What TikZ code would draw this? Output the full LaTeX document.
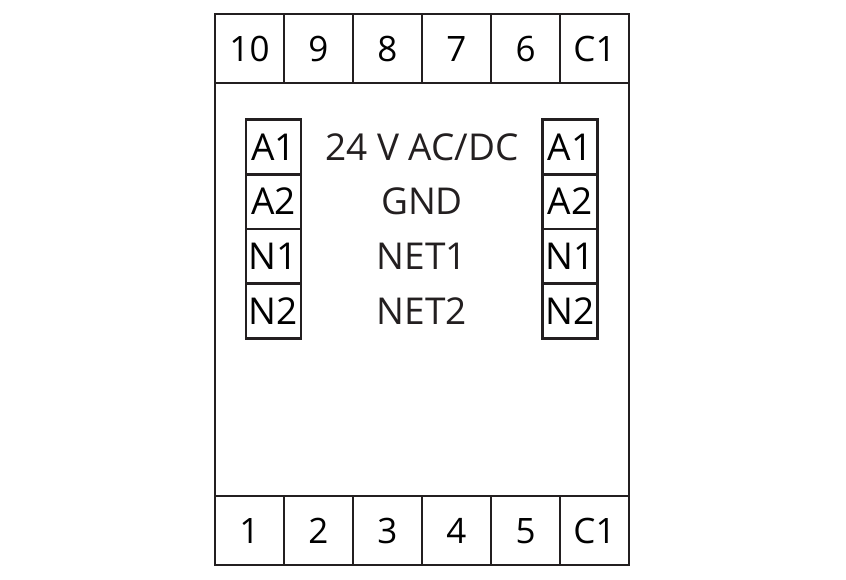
\documentclass[tikz,border=0pt]{standalone}
\usepackage{fontspec}
\setmainfont{Open Sans}
\usepackage{tikz}
\usetikzlibrary{positioning}
\definecolor{framefg}{HTML}{231F20}

\begin{document}
\begin{tikzpicture}[
      x=1pt, y=-1pt,
      node distance=0pt,
      case/.style={draw=framefg,line width=2.7pt,minimum width=414pt,minimum height=551pt,inner sep=0pt,outer sep=0pt},
      cell/.style={draw=framefg,line width=2.7pt,minimum width=69pt,minimum height=69pt,inner sep=0pt,outer sep=0pt,font=\fontsize{35}{40}\selectfont,text height=25.5pt,text depth=0pt},
      pin/.style={draw=framefg,line width=2.7pt,minimum width=55pt,minimum height=54.75pt,inner sep=0pt,outer sep=0pt,font=\fontsize{37}{42}\selectfont,text height=26.5pt,text depth=0pt},
      lbl/.style={text=framefg,inner sep=0pt,font=\fontsize{37}{42}\selectfont,text height=26.5pt,text depth=0pt}
    ]
    \useasboundingbox (0,0) rectangle (846,579);
    \node[case] (box) at (422,289.5) {};

    % upper terminal row
    \node[cell, anchor=north west] (t10) at (box.north west) {10};
    \node[cell, right=of t10] (t9) {9};
    \node[cell, right=of t9] (t8) {8};
    \node[cell, right=of t8] (t7) {7};
    \node[cell, right=of t7] (t6) {6};
    \node[cell, right=of t6] (tc1) {C1};

    % lower terminal row
    \node[cell, anchor=south west] (b1) at (box.south west) {1};
    \node[cell, right=of b1] (b2) {2};
    \node[cell, right=of b2] (b3) {3};
    \node[cell, right=of b3] (b4) {4};
    \node[cell, right=of b4] (b5) {5};
    \node[cell, right=of b5] (bc1) {C1};

    % bus pins, left
    \node[pin, anchor=north west] (la1) at (246,119.5) {A1};
    \node[pin, below=of la1] (la2) {A2};
    \node[pin, below=of la2] (ln1) {N1};
    \node[pin, below=of ln1] (ln2) {N2};

    % bus pins, right
    \node[pin, anchor=north west] (ra1) at (542.5,119.5) {A1};
    \node[pin, below=of ra1] (ra2) {A2};
    \node[pin, below=of ra2] (rn1) {N1};
    \node[pin, below=of rn1] (rn2) {N2};

    % signal names
    \node[lbl] (supply) at (box.center |- la1) {24 V AC/DC};
    \node[lbl] (gnd) at (box.center |- la2) {GND};
    \node[lbl] (net1) at (box.center |- ln1) {NET1};
    \node[lbl] (net2) at (box.center |- ln2) {NET2};
  \end{tikzpicture}
\end{document}
